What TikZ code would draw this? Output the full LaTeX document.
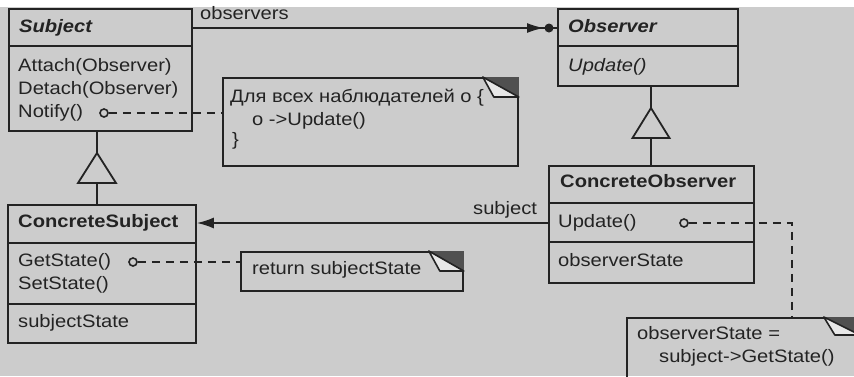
\documentclass[tikz,border=0pt]{standalone}
\usepackage{fontspec}
\setmainfont{Liberation Sans}[FakeStretch=1.12]
\usetikzlibrary{arrows.meta,calc}
\definecolor{bg}{RGB}{204,204,204}
\definecolor{ink}{RGB}{35,35,35}
\definecolor{corner}{RGB}{80,80,80}
\definecolor{flap}{RGB}{232,232,232}
\newcommand{\foldnote}[3]{%
  \fill[corner] ([xshift=-#2]#1.north east) -- (#1.north east) -- ([yshift=-#3]#1.north east) -- cycle;
  \draw[ink,line width=1.6pt,line join=round,fill=flap] ([xshift=-#2]#1.north east) -- ([xshift=-#2+11pt,yshift=-#3]#1.north east) -- ([yshift=-#3]#1.north east) -- cycle;}
\begin{document}
\begin{tikzpicture}[x=1pt,y=-1pt,
  umlbox/.style={draw=ink,line width=1.8pt,rectangle,inner sep=0pt,anchor=north west},
  sepline/.style={draw=ink,line width=1.8pt},
  conn/.style={draw=ink,line width=1.8pt},
  dashline/.style={draw=ink,line width=1.8pt,dash pattern=on 8pt off 6pt},
  port/.style={circle,draw=ink,line width=1.6pt,fill=bg,minimum size=8pt,inner sep=0pt},
  lbl/.style={anchor=west,inner sep=0pt,text=ink,font=\fontsize{18}{22}\selectfont,text height=13pt,text depth=4pt},
  ttl/.style={lbl,font=\fontsize{18}{22}\selectfont\bfseries},
  attl/.style={lbl,font=\fontsize{18}{22}\selectfont\bfseries\itshape},
  ilbl/.style={lbl,font=\fontsize{18}{22}\selectfont\itshape}]
\useasboundingbox (0,0) rectangle (854,376);
\fill[bg] (0,7) rectangle (854,376);

% class boxes
\node[umlbox,minimum width=183pt,minimum height=122pt] (subj) at (8,8) {};
\node[umlbox,minimum width=180pt,minimum height=77pt] (obs) at (557,8) {};
\node[umlbox,minimum width=205pt,minimum height=117pt] (cobs) at (548,165) {};
\node[umlbox,minimum width=188pt,minimum height=138pt] (csubj) at (7,204) {};

\draw[sepline] (subj.west |- 0,46) -- (subj.east |- 0,46);
\draw[sepline] (obs.west |- 0,46) -- (obs.east |- 0,46);
\draw[sepline] (cobs.west |- 0,203) -- (cobs.east |- 0,203);
\draw[sepline] (cobs.west |- 0,242) -- (cobs.east |- 0,242);
\draw[sepline] (csubj.west |- 0,243) -- (csubj.east |- 0,243);
\draw[sepline] (csubj.west |- 0,304) -- (csubj.east |- 0,304);

% notes
\node[umlbox,minimum width=295pt,minimum height=88pt] (note1) at (222,77) {};
\node[umlbox,minimum width=222pt,minimum height=39pt] (note2) at (240,251) {};
\node[umlbox,minimum width=232pt,minimum height=73pt] (note3) at (626,317) {};
\foldnote{note1}{36pt}{20pt}
\foldnote{note2}{35pt}{20pt}
\foldnote{note3}{36pt}{18pt}

% texts
\node[attl] (subjT) at (19,28) {Subject};
\node[lbl] (sAtt) at (18,67) {Attach(Observer)};
\node[lbl] (sDet) at (18,90) {Detach(Observer)};
\node[lbl] (sNot) at (18,113) {Notify()};

\node[attl] (obsT) at (568,28) {Observer};
\node[ilbl] (oUpd) at (568,67) {Update()};

\node[ttl] (cobsT) at (560,183) {ConcreteObserver};
\node[lbl] (cobsU) at (558,223) {Update()};
\node[lbl] (cobsS) at (558,262) {observerState};

\node[ttl] (csubjT) at (18,223) {ConcreteSubject};
\node[lbl] (csG) at (18,262) {GetState()};
\node[lbl] (csS) at (18,285) {SetState()};
\node[lbl] (csSt) at (18,323) {subjectState};

\node[lbl] (n1a) at (230,98) {Для всех наблюдателей o \{};
\node[lbl] (n1b) at (252,121) {o ->Update()};
\node[lbl] (n1c) at (232,141) {\}};
\node[lbl] (n2a) at (252,270) {return subjectState};
\node[lbl] (n3a) at (637,335) {observerState =};
\node[lbl] (n3b) at (659,358) {subject->GetState()};

\node[lbl] (obsLbl) at (200,15) {observers};
\node[lbl] (subLbl) at (473,210) {subject};

% association observers
\draw[conn] (subj.east |- subjT.west) -- (obs.west |- obsT.west);
\draw[conn,-{Latex[length=17pt,width=10pt]},shorten >=13pt] (subj.east |- subjT.west) -- (obs.west |- obsT.west);
\fill[ink] ($(obs.west |- obsT.west)+(-8,0)$) circle[radius=4.5pt];

% association subject
\draw[conn,-{Latex[length=17pt,width=11pt]}] (cobs.west |- cobsU.west) -- (csubj.east |- cobsU.west);

% inheritance
\coordinate (g1) at (97,153);
\coordinate (g2) at (651,108);
\draw[conn] (subj.south -| g1) -- (g1);
\draw[conn,line join=miter] (g1) -- ++(-19,30) -- ++(38,0) -- cycle;
\draw[conn] ($(g1)+(0,30)$) -- (csubj.north -| g1);
\draw[conn] (obs.south -| g2) -- (g2);
\draw[conn,line join=miter] (g2) -- ++(-18.5,30) -- ++(37,0) -- cycle;
\draw[conn] ($(g2)+(0,30)$) -- (cobs.north -| g2);

% dashed note links
\node[port] (p1) at (104,113) {};
\node[port] (p2) at (133,262) {};
\node[port] (p3) at (684,223) {};
\draw[dashline] (p1.east) -- (note1.west |- p1);
\draw[dashline] (p2.east) -- (note2.west |- p2);
\draw[dashline] (p3.east) -| ($(note3.north west)+(166,0)$);
\end{tikzpicture}
\end{document}
